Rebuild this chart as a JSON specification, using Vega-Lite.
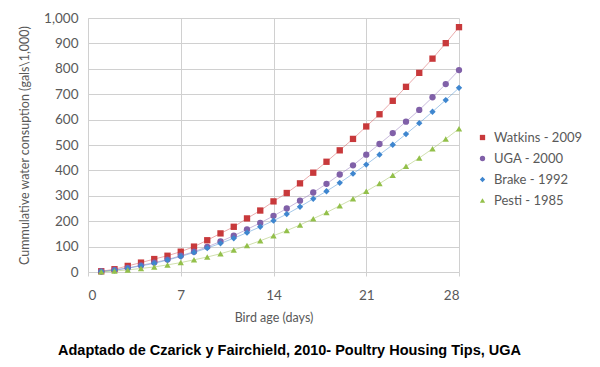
{
  "$schema": "https://vega.github.io/schema/vega-lite/v6.json",
  "width": 371,
  "height": 254,
  "autosize": "none",
  "padding": {"left": 88, "top": 18, "right": 141, "bottom": 95},
  "background": "white",
  "config": {
    "view": {"stroke": null},
    "font": "Lato"
  },
  "title": {
    "text": "Adaptado de Czarick y Fairchield, 2010- Poultry Housing Tips, UGA",
    "orient": "bottom",
    "anchor": "middle",
    "font": "Liberation Sans",
    "fontSize": 14.5,
    "fontWeight": "bold",
    "color": "#000000",
    "offset": 20,
    "dx": 16
  },
  "data": {
    "values": [
      {"day": 1, "value": 3, "series": "Watkins - 2009"},
      {"day": 2, "value": 11, "series": "Watkins - 2009"},
      {"day": 3, "value": 24, "series": "Watkins - 2009"},
      {"day": 4, "value": 37, "series": "Watkins - 2009"},
      {"day": 5, "value": 51, "series": "Watkins - 2009"},
      {"day": 6, "value": 64, "series": "Watkins - 2009"},
      {"day": 7, "value": 80, "series": "Watkins - 2009"},
      {"day": 8, "value": 100, "series": "Watkins - 2009"},
      {"day": 9, "value": 125, "series": "Watkins - 2009"},
      {"day": 10, "value": 152, "series": "Watkins - 2009"},
      {"day": 11, "value": 178, "series": "Watkins - 2009"},
      {"day": 12, "value": 211, "series": "Watkins - 2009"},
      {"day": 13, "value": 242, "series": "Watkins - 2009"},
      {"day": 14, "value": 278, "series": "Watkins - 2009"},
      {"day": 15, "value": 311, "series": "Watkins - 2009"},
      {"day": 16, "value": 349, "series": "Watkins - 2009"},
      {"day": 17, "value": 391, "series": "Watkins - 2009"},
      {"day": 18, "value": 434, "series": "Watkins - 2009"},
      {"day": 19, "value": 479, "series": "Watkins - 2009"},
      {"day": 20, "value": 524, "series": "Watkins - 2009"},
      {"day": 21, "value": 573, "series": "Watkins - 2009"},
      {"day": 22, "value": 621, "series": "Watkins - 2009"},
      {"day": 23, "value": 674, "series": "Watkins - 2009"},
      {"day": 24, "value": 729, "series": "Watkins - 2009"},
      {"day": 25, "value": 784, "series": "Watkins - 2009"},
      {"day": 26, "value": 840, "series": "Watkins - 2009"},
      {"day": 27, "value": 901, "series": "Watkins - 2009"},
      {"day": 28, "value": 964, "series": "Watkins - 2009"},
      {"day": 1, "value": 2, "series": "UGA - 2000"},
      {"day": 2, "value": 8, "series": "UGA - 2000"},
      {"day": 3, "value": 16, "series": "UGA - 2000"},
      {"day": 4, "value": 26, "series": "UGA - 2000"},
      {"day": 5, "value": 37, "series": "UGA - 2000"},
      {"day": 6, "value": 49, "series": "UGA - 2000"},
      {"day": 7, "value": 64, "series": "UGA - 2000"},
      {"day": 8, "value": 80, "series": "UGA - 2000"},
      {"day": 9, "value": 99, "series": "UGA - 2000"},
      {"day": 10, "value": 120, "series": "UGA - 2000"},
      {"day": 11, "value": 143, "series": "UGA - 2000"},
      {"day": 12, "value": 168, "series": "UGA - 2000"},
      {"day": 13, "value": 193, "series": "UGA - 2000"},
      {"day": 14, "value": 221, "series": "UGA - 2000"},
      {"day": 15, "value": 250, "series": "UGA - 2000"},
      {"day": 16, "value": 281, "series": "UGA - 2000"},
      {"day": 17, "value": 313, "series": "UGA - 2000"},
      {"day": 18, "value": 347, "series": "UGA - 2000"},
      {"day": 19, "value": 384, "series": "UGA - 2000"},
      {"day": 20, "value": 420, "series": "UGA - 2000"},
      {"day": 21, "value": 462, "series": "UGA - 2000"},
      {"day": 22, "value": 504, "series": "UGA - 2000"},
      {"day": 23, "value": 547, "series": "UGA - 2000"},
      {"day": 24, "value": 592, "series": "UGA - 2000"},
      {"day": 25, "value": 638, "series": "UGA - 2000"},
      {"day": 26, "value": 688, "series": "UGA - 2000"},
      {"day": 27, "value": 740, "series": "UGA - 2000"},
      {"day": 28, "value": 795, "series": "UGA - 2000"},
      {"day": 1, "value": 2, "series": "Brake - 1992"},
      {"day": 2, "value": 7, "series": "Brake - 1992"},
      {"day": 3, "value": 15, "series": "Brake - 1992"},
      {"day": 4, "value": 24, "series": "Brake - 1992"},
      {"day": 5, "value": 34, "series": "Brake - 1992"},
      {"day": 6, "value": 47, "series": "Brake - 1992"},
      {"day": 7, "value": 61, "series": "Brake - 1992"},
      {"day": 8, "value": 77, "series": "Brake - 1992"},
      {"day": 9, "value": 94, "series": "Brake - 1992"},
      {"day": 10, "value": 113, "series": "Brake - 1992"},
      {"day": 11, "value": 133, "series": "Brake - 1992"},
      {"day": 12, "value": 155, "series": "Brake - 1992"},
      {"day": 13, "value": 178, "series": "Brake - 1992"},
      {"day": 14, "value": 202, "series": "Brake - 1992"},
      {"day": 15, "value": 228, "series": "Brake - 1992"},
      {"day": 16, "value": 257, "series": "Brake - 1992"},
      {"day": 17, "value": 288, "series": "Brake - 1992"},
      {"day": 18, "value": 318, "series": "Brake - 1992"},
      {"day": 19, "value": 351, "series": "Brake - 1992"},
      {"day": 20, "value": 387, "series": "Brake - 1992"},
      {"day": 21, "value": 423, "series": "Brake - 1992"},
      {"day": 22, "value": 462, "series": "Brake - 1992"},
      {"day": 23, "value": 501, "series": "Brake - 1992"},
      {"day": 24, "value": 543, "series": "Brake - 1992"},
      {"day": 25, "value": 586, "series": "Brake - 1992"},
      {"day": 26, "value": 631, "series": "Brake - 1992"},
      {"day": 27, "value": 677, "series": "Brake - 1992"},
      {"day": 28, "value": 725, "series": "Brake - 1992"},
      {"day": 1, "value": 1, "series": "Pesti - 1985"},
      {"day": 2, "value": 4, "series": "Pesti - 1985"},
      {"day": 3, "value": 8, "series": "Pesti - 1985"},
      {"day": 4, "value": 14, "series": "Pesti - 1985"},
      {"day": 5, "value": 20, "series": "Pesti - 1985"},
      {"day": 6, "value": 28, "series": "Pesti - 1985"},
      {"day": 7, "value": 37, "series": "Pesti - 1985"},
      {"day": 8, "value": 48, "series": "Pesti - 1985"},
      {"day": 9, "value": 59, "series": "Pesti - 1985"},
      {"day": 10, "value": 72, "series": "Pesti - 1985"},
      {"day": 11, "value": 87, "series": "Pesti - 1985"},
      {"day": 12, "value": 104, "series": "Pesti - 1985"},
      {"day": 13, "value": 123, "series": "Pesti - 1985"},
      {"day": 14, "value": 143, "series": "Pesti - 1985"},
      {"day": 15, "value": 163, "series": "Pesti - 1985"},
      {"day": 16, "value": 185, "series": "Pesti - 1985"},
      {"day": 17, "value": 210, "series": "Pesti - 1985"},
      {"day": 18, "value": 234, "series": "Pesti - 1985"},
      {"day": 19, "value": 261, "series": "Pesti - 1985"},
      {"day": 20, "value": 288, "series": "Pesti - 1985"},
      {"day": 21, "value": 318, "series": "Pesti - 1985"},
      {"day": 22, "value": 348, "series": "Pesti - 1985"},
      {"day": 23, "value": 381, "series": "Pesti - 1985"},
      {"day": 24, "value": 416, "series": "Pesti - 1985"},
      {"day": 25, "value": 449, "series": "Pesti - 1985"},
      {"day": 26, "value": 485, "series": "Pesti - 1985"},
      {"day": 27, "value": 524, "series": "Pesti - 1985"},
      {"day": 28, "value": 564, "series": "Pesti - 1985"}
    ]
  },
  "encoding": {
    "x": {
      "field": "day",
      "type": "quantitative",
      "scale": {"domain": [0, 28], "nice": false},
      "axis": {
        "values": [0, 7, 14, 21, 28],
        "title": "Bird age (days)",
        "titleFont": "Lato",
        "titleFontSize": 12.5,
        "titleFontWeight": "normal",
        "titleColor": "#595959",
        "titlePadding": 10,
        "labelFont": "Lato",
        "labelFontSize": 13.5,
        "labelColor": "#595959",
        "labelPadding": 12,
        "domain": false,
        "ticks": true,
        "tickSize": 4,
        "tickColor": "#d0d0d0",
        "gridColor": "#d0d0d0",
        "gridWidth": 1
      }
    },
    "y": {
      "field": "value",
      "type": "quantitative",
      "scale": {"domain": [0, 1000], "nice": false},
      "axis": {
        "values": [0, 100, 200, 300, 400, 500, 600, 700, 800, 900, 1000],
        "format": ",d",
        "title": "Cummulative water consuption (gals\\1,000)",
        "titleFont": "Lato",
        "titleFontSize": 12.5,
        "titleFontWeight": "normal",
        "titleColor": "#595959",
        "titlePadding": 12,
        "labelFont": "Lato",
        "labelFontSize": 13.5,
        "labelColor": "#595959",
        "labelPadding": 10,
        "domain": true,
        "domainColor": "#d0d0d0",
        "ticks": false,
        "gridColor": "#d0d0d0",
        "gridWidth": 1
      }
    }
  },
  "layer": [
    {
      "mark": {"type": "line", "strokeWidth": 1, "opacity": 0.55},
      "encoding": {
        "stroke": {
          "field": "series",
          "type": "nominal",
          "scale": {
            "domain": ["Pesti - 1985", "Brake - 1992", "UGA - 2000", "Watkins - 2009"],
            "range": ["#a9c66b", "#5b9bd5", "#9a82c0", "#d9686a"]
          },
          "legend": null
        }
      }
    },
    {
      "mark": {"type": "point", "filled": true, "opacity": 1, "size": 40},
      "encoding": {
        "color": {
          "field": "series",
          "type": "nominal",
          "scale": {
            "domain": ["Watkins - 2009", "UGA - 2000", "Brake - 1992", "Pesti - 1985"],
            "range": ["#c8393b", "#8060a8", "#3e86cf", "#93c04a"]
          },
          "legend": {
            "title": null,
            "orient": "none",
            "legendX": 388,
            "legendY": 113,
            "labelFont": "Lato",
            "labelFontSize": 13,
            "labelColor": "#595959",
            "rowPadding": 7,
            "symbolSize": 28,
            "labelOffset": 5
          }
        },
        "shape": {
          "field": "series",
          "type": "nominal",
          "scale": {
            "domain": ["Watkins - 2009", "UGA - 2000", "Brake - 1992", "Pesti - 1985"],
            "range": ["square", "circle", "diamond", "triangle-up"]
          },
          "legend": {
            "title": null,
            "orient": "none",
            "legendX": 388,
            "legendY": 113,
            "labelFont": "Lato",
            "labelFontSize": 13,
            "labelColor": "#595959",
            "rowPadding": 7,
            "symbolSize": 28,
            "labelOffset": 5
          }
        }
      }
    }
  ]
}
